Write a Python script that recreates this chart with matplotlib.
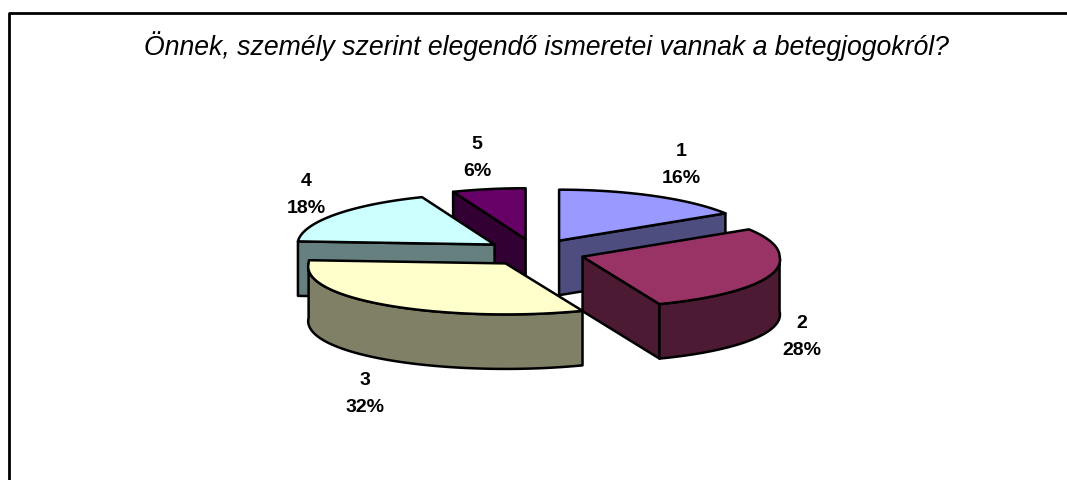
import matplotlib
matplotlib.use('Agg')
import matplotlib.pyplot as plt
import numpy as np

plt.rcParams['font.family'] = ['Liberation Sans', 'DejaVu Sans']

title = 'Önnek, személy szerint elegendő ismeretei vannak a betegjogokról?'
categories = ['1', '2', '3', '4', '5']
values = [16, 28, 32, 18, 6]
top_colors = ['#9999FF', '#993366', '#FFFFCC', '#CCFFFF', '#660066']
side_colors = ['#4D4D80', '#4D1A33', '#808066', '#668080', '#330033']
label_pos = [(681, 165), (802, 337), (365, 394), (306, 195), (477, 158)]
draw_order = [4, 3, 0, 1, 2]

# pie geometry, in pixels
cx, cy = 535, 252.5
rx, ry = 197, 51
depth = 54.5
explode = 50
explode_k = 0.27
widen = 0.065  # front of the pie is drawn a bit wider


def arc(x0, y0, a0, a1, dy=0):
    t = np.radians(np.linspace(a0, a1, 80))
    scale = 1 + widen * np.maximum(0, -np.cos(t))
    return np.column_stack([x0 + rx * np.sin(t) * scale, y0 - ry * np.cos(t) + dy])


def draw_slice(ax, a0, a1, top, side):
    mid = np.radians((a0 + a1) / 2)
    x0 = cx + explode * np.sin(mid)
    y0 = cy - explode * explode_k * np.cos(mid)
    style = dict(edgecolor='black', linewidth=1.8, joinstyle='round')
    # cut faces, only those turned to the viewer
    for a, show in ((a0, np.sin(np.radians(a0)) < -1e-6), (a1, np.sin(np.radians(a1)) > 1e-6)):
        if show:
            p = arc(x0, y0, a, a)[0]
            face = [(x0, y0), p, (p[0], p[1] + depth), (x0, y0 + depth)]
            ax.fill(*zip(*face), facecolor=side, **style)
    # outer wall, only the front half shows
    b0, b1 = max(a0, 90), min(a1, 270)
    if b1 > b0:
        upper = arc(x0, y0, b0, b1)
        lower = arc(x0, y0, b1, b0, depth)
        ax.fill(*np.vstack([upper, lower]).T, facecolor=side, **style)
    shape = np.vstack([[(x0, y0)], arc(x0, y0, a0, a1)])
    ax.fill(*shape.T, facecolor=top, **style)


fig = plt.figure(figsize=(10.67, 4.8), dpi=100)
ax = fig.add_axes([0, 0, 1, 1])
ax.set_xlim(0, 1067)
ax.set_ylim(480, 0)
ax.axis('off')

edges = np.cumsum([0] + values) / sum(values) * 360
for i in draw_order:
    draw_slice(ax, edges[i], edges[i + 1], top_colors[i], side_colors[i])

for name, v, (x, y) in zip(categories, values, label_pos):
    ax.text(x, y, f'{name}\n{v}%', ha='center', va='center', fontsize=14,
            fontweight='bold', linespacing=1.75)

ax.text(546.5, 46, title, ha='center', va='center', fontsize=19.2, style='italic')
ax.plot([9, 9, 1067], [480, 13, 13], color='black', lw=2)

fig.savefig('out.png', dpi=100)
